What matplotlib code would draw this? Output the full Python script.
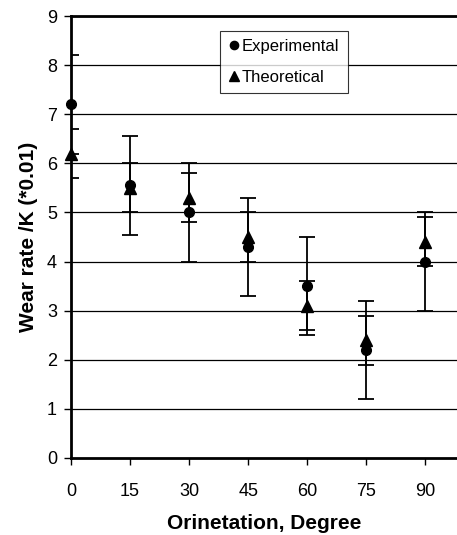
import numpy as np
import matplotlib.pyplot as plt

plt.rcParams['font.family'] = ['Liberation Sans', 'DejaVu Sans']

# Data
orientation = [0, 15, 30, 45, 60, 75, 90]
experimental = [7.2, 5.55, 5.0, 4.3, 3.5, 2.2, 4.0]
theoretical = [6.2, 5.5, 5.3, 4.5, 3.1, 2.4, 4.4]
exp_err = [1.0, 1.0, 1.0, 1.0, 1.0, 1.0, 1.0]
theo_err = [0.5, 0.5, 0.5, 0.5, 0.5, 0.5, 0.5]

fig = plt.figure(figsize=(4.57, 5.35), dpi=100)
ax = fig.add_axes([0.155, 0.144, 0.845, 0.826])

# Horizontal grid lines
for y in range(1, 10):
    ax.axhline(y, color='black', linewidth=0.9, zorder=0)

eb1 = ax.errorbar(orientation, experimental, yerr=exp_err, fmt='o', color='black',
                  markersize=7, capsize=6, elinewidth=1.3, capthick=1.3,
                  label='Experimental', zorder=3)
eb2 = ax.errorbar(orientation, theoretical, yerr=theo_err, fmt='^', color='black',
                  markersize=8, capsize=6, elinewidth=1.3, capthick=1.3,
                  label='Theoretical', zorder=3)
# markers drawn over the axis edge, error bars stay clipped
eb1[0].set_clip_on(False)
eb2[0].set_clip_on(False)

ax.set_xlim(0, 98)
ax.set_ylim(0, 9)
ax.set_xticks(orientation)
ax.set_yticks(range(0, 10))
ax.tick_params(axis='both', direction='out', length=5, width=1, labelsize=13)
ax.tick_params(axis='x', pad=13)
ax.tick_params(axis='y', pad=5)

for side in ['left', 'bottom', 'top']:
    ax.spines[side].set_linewidth(2)
ax.spines['right'].set_visible(False)

ax.set_xlabel('Orinetation, Degree', fontsize=15, fontweight='bold', labelpad=10)
ax.set_ylabel('Wear rate /K (*0.01)', fontsize=15, fontweight='bold', labelpad=6)

handles, labels = ax.get_legend_handles_labels()
handles = [h[0] for h in handles]
leg = ax.legend(handles, labels, loc='upper left', bbox_to_anchor=(0.387, 0.967),
                fontsize=12, frameon=True, fancybox=False, edgecolor='black',
                handletextpad=0.1, handlelength=0.7, borderpad=0.5,
                labelspacing=0.95, borderaxespad=0, markerscale=0.85)
leg.get_frame().set_linewidth(0.8)

fig.savefig('out.png', dpi=100)
